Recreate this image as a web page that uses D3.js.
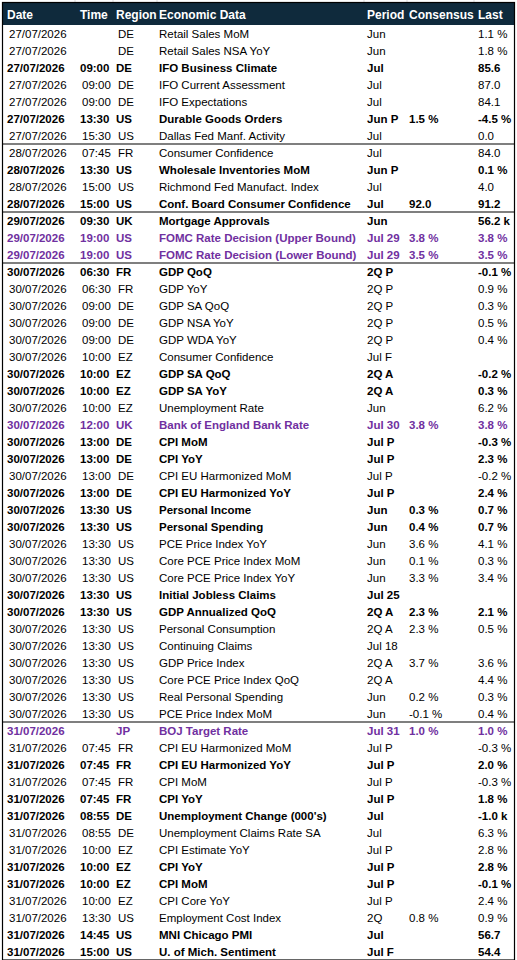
<!DOCTYPE html>
<html><head><meta charset="utf-8">
<script src="https://cdn.jsdelivr.net/npm/d3@7"></script>
<style>body{margin:0;background:#fff}svg{display:block}</style>
</head><body>
<script>
const headers=["Date","Time","Region","Economic Data","Period","Consensus","Last"];
const dates=["27/07/2026","27/07/2026","27/07/2026","27/07/2026","27/07/2026","27/07/2026","27/07/2026",
"28/07/2026","28/07/2026","28/07/2026","28/07/2026",
"29/07/2026","29/07/2026","29/07/2026",
"30/07/2026","30/07/2026","30/07/2026","30/07/2026","30/07/2026","30/07/2026","30/07/2026","30/07/2026","30/07/2026","30/07/2026","30/07/2026","30/07/2026","30/07/2026","30/07/2026","30/07/2026","30/07/2026","30/07/2026","30/07/2026","30/07/2026","30/07/2026","30/07/2026","30/07/2026","30/07/2026","30/07/2026","30/07/2026","30/07/2026","30/07/2026",
"31/07/2026","31/07/2026","31/07/2026","31/07/2026","31/07/2026","31/07/2026","31/07/2026","31/07/2026","31/07/2026","31/07/2026","31/07/2026","31/07/2026","31/07/2026","31/07/2026"];
const times=["","","09:00","09:00","09:00","13:30","15:30","07:45","13:30","15:00","15:00","09:30","19:00","19:00",
"06:30","06:30","09:00","09:00","09:00","10:00","10:00","10:00","10:00","12:00","13:00","13:00","13:00","13:00","13:30","13:30","13:30","13:30","13:30","13:30","13:30","13:30","13:30","13:30","13:30","13:30","13:30",
"","07:45","07:45","07:45","07:45","08:55","08:55","10:00","10:00","10:00","10:00","13:30","14:45","15:00"];
const regions=["DE","DE","DE","DE","DE","US","US","FR","US","US","US","UK","US","US",
"FR","FR","DE","DE","DE","EZ","EZ","EZ","EZ","UK","DE","DE","DE","DE","US","US","US","US","US","US","US","US","US","US","US","US","US",
"JP","FR","FR","FR","FR","DE","DE","EZ","EZ","EZ","EZ","US","US","US"];
const names=["Retail Sales MoM","Retail Sales NSA YoY","IFO Business Climate","IFO Current Assessment","IFO Expectations","Durable Goods Orders","Dallas Fed Manf. Activity",
"Consumer Confidence","Wholesale Inventories MoM","Richmond Fed Manufact. Index","Conf. Board Consumer Confidence",
"Mortgage Approvals","FOMC Rate Decision (Upper Bound)","FOMC Rate Decision (Lower Bound)",
"GDP QoQ","GDP YoY","GDP SA QoQ","GDP NSA YoY","GDP WDA YoY","Consumer Confidence","GDP SA QoQ","GDP SA YoY","Unemployment Rate","Bank of England Bank Rate","CPI MoM","CPI YoY","CPI EU Harmonized MoM","CPI EU Harmonized YoY","Personal Income","Personal Spending","PCE Price Index YoY","Core PCE Price Index MoM","Core PCE Price Index YoY","Initial Jobless Claims","GDP Annualized QoQ","Personal Consumption","Continuing Claims","GDP Price Index","Core PCE Price Index QoQ","Real Personal Spending","PCE Price Index MoM",
"BOJ Target Rate","CPI EU Harmonized MoM","CPI EU Harmonized YoY","CPI MoM","CPI YoY","Unemployment Change (000's)","Unemployment Claims Rate SA","CPI Estimate YoY","CPI YoY","CPI MoM","CPI Core YoY","Employment Cost Index","MNI Chicago PMI","U. of Mich. Sentiment"];
const periods=["Jun","Jun","Jul","Jul","Jul","Jun P","Jul","Jul","Jun P","Jul","Jul","Jun","Jul 29","Jul 29",
"2Q P","2Q P","2Q P","2Q P","2Q P","Jul F","2Q A","2Q A","Jun","Jul 30","Jul P","Jul P","Jul P","Jul P","Jun","Jun","Jun","Jun","Jun","Jul 25","2Q A","2Q A","Jul 18","2Q A","2Q A","Jun","Jun",
"Jul 31","Jul P","Jul P","Jul P","Jul P","Jul","Jul","Jul P","Jul P","Jul P","Jul P","2Q","Jul","Jul F"];
const consensus=["","","","","","1.5 %","","","","","92.0","","3.8 %","3.5 %",
"","","","","","","","","","3.8 %","","","","","0.3 %","0.4 %","3.6 %","0.1 %","3.3 %","","2.3 %","2.3 %","","3.7 %","","0.2 %","-0.1 %",
"1.0 %","","","","","","","","","","","0.8 %","",""];
const last=["1.1 %","1.8 %","85.6","87.0","84.1","-4.5 %","0.0","84.0","0.1 %","4.0","91.2","56.2 k","3.8 %","3.5 %",
"-0.1 %","0.9 %","0.3 %","0.5 %","0.4 %","","-0.2 %","0.3 %","6.2 %","3.8 %","-0.3 %","2.3 %","-0.2 %","2.4 %","0.7 %","0.7 %","4.1 %","0.3 %","3.4 %","","2.1 %","0.5 %","","3.6 %","4.4 %","0.3 %","0.4 %",
"1.0 %","-0.3 %","2.0 %","-0.3 %","1.8 %","-1.0 k","6.3 %","2.8 %","2.8 %","-0.1 %","2.4 %","0.9 %","56.7","54.4"];
const boldRows=[2,5,8,10,11,12,13,14,20,21,23,24,25,27,28,29,33,34,41,43,45,46,49,50,53,54];
const purpleRows=[12,13,23,41];

const W=517,H=960,top0=25,rowH=17;
const colX=[7,80,116,159,367,409,478];
const svg=d3.select("body").append("svg").attr("width",W).attr("height",H);
const idx=d3.range(dates.length);
const y=d3.scaleBand().domain(idx).range([top0,top0+rowH*idx.length]);
const font="'Liberation Sans', Arial, sans-serif";

// header
svg.append("rect").attr("x",2).attr("y",2).attr("width",W-4).attr("height",top0-2).attr("fill","#0f2a3c");
svg.selectAll("text.h").data(headers).join("text").attr("class","h")
 .attr("x",(d,i)=>colX[i]+(i==1?0:0)).attr("y",19).text(d=>d)
 .attr("fill","#fff").attr("font-family",font).attr("font-weight","bold").attr("font-size","12px");
// top faint gridlines
[75,113,157,364,407,474].forEach(x=>svg.append("line").attr("x1",x).attr("x2",x).attr("y1",0).attr("y2",2).attr("stroke","#ddd"));

const cols=[dates,times,regions,names,periods,consensus,last];
const rows=svg.selectAll("g.r").data(idx).join("g").attr("class","r")
 .attr("transform",i=>`translate(0,${y(i)})`);
cols.forEach((arr,c)=>{
  rows.append("text").attr("x",i=>colX[c]+(boldRows.includes(i)?0:(c<3?2:0))).attr("y",13)
   .text(i=>arr[i]).attr("font-family",font).attr("font-size","11.5px")
   .attr("font-weight",i=>boldRows.includes(i)?"bold":"normal")
   .attr("fill",i=>purpleRows.includes(i)?"#7030a0":"#000");
});
// group separators
const seps=idx.filter(i=>i>0&&dates[i]!==dates[i-1]);
svg.selectAll("line.s").data(seps).join("line").attr("class","s")
 .attr("x1",2).attr("x2",W-2).attr("y1",i=>y(i)).attr("y2",i=>y(i)).attr("stroke","#000").attr("stroke-width",1.2);
// outer border
svg.append("rect").attr("x",2.5).attr("y",2.5).attr("width",W-5).attr("height",y(idx.length-1)+rowH-2.5)
 .attr("fill","none").attr("stroke","#000").attr("stroke-width",1.2);
</script>
</body></html>
